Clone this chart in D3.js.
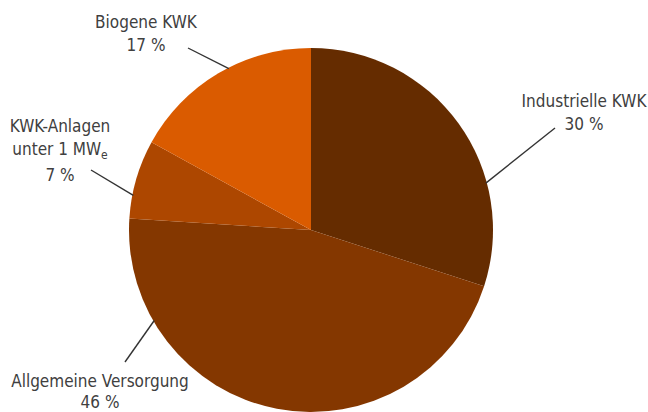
<!DOCTYPE html>
<html>
<head>
<meta charset="utf-8">
<script src="https://cdn.jsdelivr.net/npm/d3@7"></script>
<style>
body { margin: 0; background: #fff; }
svg text { font-family: "Liberation Sans Narrow", "DejaVu Sans Condensed", sans-serif; font-size: 17px; fill: #404040; }
</style>
</head>
<body>
<div id="chart"></div>
<script>
// data
var categories = ["Industrielle KWK", "Allgemeine Versorgung", "KWK-Anlagen unter 1 MWe", "Biogene KWK"];
var shares = [30, 46, 7, 17];
var colors = ["#652c00", "#843700", "#ad4700", "#da5b00"];

var svgWidth = 648, svgHeight = 412;
var cx = 311, cy = 230, radius = 182;

var svg = d3.select("#chart").append("svg")
    .attr("width", svgWidth)
    .attr("height", svgHeight);

var g = svg.append("g").attr("transform", `translate(${cx}, ${cy})`);

var pie = d3.pie().sort(null).value(d => d.v);
var arc = d3.arc().innerRadius(0).outerRadius(radius);

var slices = pie(shares.map((v, i) => ({ v: v, name: categories[i] })));

g.selectAll("path.slice")
    .data(slices)
    .enter()
    .append("path")
    .attr("class", "slice")
    .attr("d", arc)
    .attr("fill", (d, i) => colors[i]);

// label layout: angle where the leader touches the pie (deg), line end, text anchor point
var labelLayout = [
    { a: 75, end: [555, 128], tx: 584, ty: 107, lh: 23, lines: ["Industrielle KWK"] },
    { a: 240, end: [125, 362], tx: 100, ty: 387, lh: 21, lines: ["Allgemeine Versorgung"] },
    { a: 281, end: [91, 170], tx: 60, ty: 132, lh: 22.5, lines: ["KWK-Anlagen", "unter 1 MW"] },
    { a: 333, end: [188, 48], tx: 146, ty: 28, lh: 23, lines: ["Biogene KWK"] }
];

labelLayout.forEach(function(l, i) {
    var ang = l.a * Math.PI / 180;
    var x0 = cx + Math.sin(ang) * (radius - 1);
    var y0 = cy - Math.cos(ang) * (radius - 1);
    svg.append("line")
        .attr("x1", x0).attr("y1", y0)
        .attr("x2", l.end[0]).attr("y2", l.end[1])
        .attr("stroke", "#333")
        .attr("stroke-width", 1.4);

    var t = svg.append("text")
        .attr("text-anchor", "middle")
        .attr("x", l.tx)
        .attr("y", l.ty);
    l.lines.forEach(function(s, j) {
        t.append("tspan").attr("x", l.tx).attr("dy", j === 0 ? 0 : l.lh).text(s);
        if (s === "unter 1 MW") {
            t.append("tspan").attr("dy", 4).attr("font-size", "12px").text("e");
            t.append("tspan").attr("dy", -4).text("");
        }
    });
    t.append("tspan").attr("x", l.tx).attr("dy", l.lh).text(shares[i] + " %");
});
</script>
</body>
</html>
